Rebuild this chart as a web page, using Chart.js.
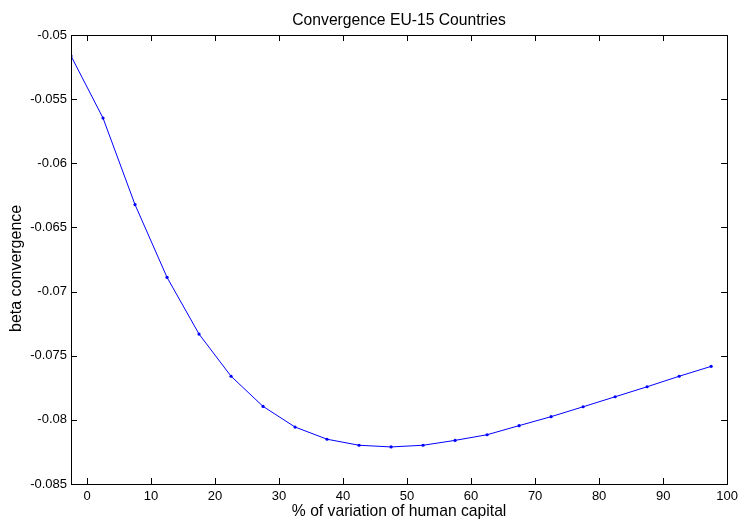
<!DOCTYPE html>
<html lang="en">
<head>
<meta charset="UTF-8">
<title>Convergence EU-15 Countries</title>
<script src="https://cdn.jsdelivr.net/npm/chart.js"></script>
<style>
  html, body { margin: 0; padding: 0; background: #fff; }
  #wrap { width: 743px; height: 520px; }
</style>
</head>
<body>
<div id="wrap"><canvas id="chart" width="743" height="520"></canvas></div>
<script>
// % of variation of human capital
const variation = [-2.5, 2.5, 7.5, 12.5, 17.5, 22.5, 27.5, 32.5, 37.5, 42.5, 47.5,
                   52.5, 57.5, 62.5, 67.5, 72.5, 77.5, 82.5, 87.5, 92.5, 97.5];
// beta convergence
const beta = [-0.05163, -0.05647, -0.06322, -0.06889, -0.07331, -0.0766, -0.07895,
              -0.08056, -0.08151, -0.08198, -0.08211, -0.08198, -0.0816, -0.08116,
              -0.08045, -0.07975, -0.07898, -0.0782, -0.07742, -0.0766, -0.07583];

const xTicks = [0, 10, 20, 30, 40, 50, 60, 70, 80, 90, 100];
const yTicks = [-0.085, -0.08, -0.075, -0.07, -0.065, -0.06, -0.055, -0.05];

const fontFamily = '"Liberation Sans", Arial, Helvetica, sans-serif';
const labelFont = { family: fontFamily, size: 15.7 };

// matlab-style box with ticks pointing inward
const boxTicks = {
  id: 'boxTicks',
  afterDraw(chart) {
    const ctx = chart.ctx;
    const a = chart.chartArea;
    const xs = chart.scales.x, ys = chart.scales.y;
    const len = 6;
    ctx.save();
    ctx.strokeStyle = '#000';
    ctx.lineWidth = 1;
    ctx.beginPath();
    xTicks.forEach(v => {
      const px = Math.round(xs.getPixelForValue(v)) + 0.5;
      ctx.moveTo(px, a.bottom); ctx.lineTo(px, a.bottom - len);
      ctx.moveTo(px, a.top); ctx.lineTo(px, a.top + len);
    });
    yTicks.forEach(v => {
      const py = Math.round(ys.getPixelForValue(v)) + 0.5;
      ctx.moveTo(a.left, py); ctx.lineTo(a.left + len, py);
      ctx.moveTo(a.right, py); ctx.lineTo(a.right - len, py);
    });
    ctx.stroke();
    ctx.strokeRect(Math.round(a.left) + 0.5, Math.round(a.top) + 0.5,
                   Math.round(a.right - a.left), Math.round(a.bottom - a.top));
    ctx.restore();
  }
};

new Chart(document.getElementById('chart'), {
  type: 'line',
  data: {
    datasets: [{
      data: variation.map((v, i) => ({ x: v, y: beta[i] })),
      borderColor: '#0000ff',
      backgroundColor: '#0000ff',
      borderWidth: 1,
      pointRadius: 1.6,
      pointBorderWidth: 0,
      tension: 0
    }]
  },
  options: {
    responsive: false,
    animation: false,
    layout: { padding: { left: 0, right: 13, top: 0, bottom: 0 } },
    plugins: { legend: { display: false }, tooltip: { enabled: false } },
    scales: {
      x: {
        type: 'linear',
        position: 'bottom',
        min: -2.5,
        max: 100,
        grid: { display: false, drawTicks: false },
        border: { display: false },
        afterBuildTicks: s => { s.ticks = xTicks.map(v => ({ value: v })); },
        afterFit: s => { s.height = 36; },
        ticks: { color: '#000', padding: 5, maxRotation: 0, font: { family: fontFamily, size: 13 } },
        title: {
          display: true, text: '% of variation of human capital', color: '#000',
          padding: { top: 0, bottom: -1.5 }, font: labelFont
        }
      },
      x2: {
        type: 'linear',
        position: 'top',
        min: -2.5,
        max: 100,
        grid: { display: false, drawTicks: false },
        border: { display: false },
        ticks: { display: false },
        afterFit: s => { s.height = 35; },
        title: {
          display: true, text: 'Convergence EU-15 Countries', color: '#000',
          padding: { top: 11, bottom: 0 }, font: labelFont
        }
      },
      y: {
        type: 'linear',
        min: -0.085,
        max: -0.05,
        grid: { display: false, drawTicks: false },
        border: { display: false },
        afterBuildTicks: s => { s.ticks = yTicks.map(v => ({ value: v })); },
        afterFit: s => { s.width = 71; },
        ticks: {
          color: '#000', padding: 4, font: { family: fontFamily, size: 13 },
          callback: v => String(v)
        },
        title: {
          display: true, text: 'beta convergence    ', color: '#000',
          padding: { top: 7, bottom: 0 }, font: { family: fontFamily, size: 16 }
        }
      }
    }
  },
  plugins: [boxTicks]
});
</script>
</body>
</html>
